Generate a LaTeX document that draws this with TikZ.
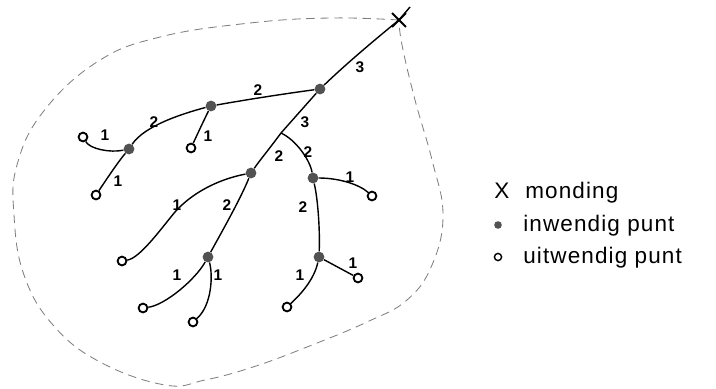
\documentclass[tikz,border=0pt]{standalone}
\usepackage{fontspec}
\setmainfont{Liberation Sans}
\usetikzlibrary{positioning, shapes.misc}

\begin{document}
\begin{tikzpicture}[x=0.025cm, y=-0.025cm,
    tak/.style={line width=1pt},
    inw/.style={circle, fill=black!68, inner sep=0pt, minimum size=0.27cm},
    uitw/.style={circle, draw, line width=1.3pt, fill=white, inner sep=0pt, minimum size=0.22cm},
    getal/.style={font=\bfseries\fontsize{11}{13}\selectfont, inner sep=0.5pt},
    rand/.style={gray, line width=0.6pt, dash pattern=on 6pt off 4pt},
    leg/.style={font=\fontsize{16}{19}\selectfont\addfontfeatures{LetterSpace=5}, anchor=base west, inner sep=0pt}]
        \useasboundingbox (0,0) rectangle (716,388);
        % Rand
        \draw[rand] plot[smooth, tension=0.7] coordinates {(399,20) (330,18) (250,23) (160,37) (97,62) (43,112) (17,165) (14,215) (24,275) (53,325) (100,362) (165,385) (205,380) (253,367) (307,347) (367,322) (407,300) (432,265) (443,215) (432,160) (415,100) (402,45) (399,20)};
        % Monding
        \node[cross out, draw, line width=1.4pt, minimum size=0.3cm, inner sep=0pt] (M) at (399,20) {};
        \coordinate (top) at (410,7);
        % Inwendige punten
        \node[inw] (A) at (320,89) {};
        \node[inw] (B) at (211,106) {};
        \node[inw] (C) at (129,149) {};
        \node[inw] (D) at (251,173) {};
        \node[inw] (E) at (313,178) {};
        \node[inw] (F) at (208,257) {};
        \node[inw] (G) at (319,257) {};
        \coordinate (V) at (281,133);
        % Uitwendige punten
        \node[uitw] (c1) at (83,137) {};
        \node[uitw] (c2) at (96,195) {};
        \node[uitw] (b1) at (191,148) {};
        \node[uitw] (d1) at (122,261) {};
        \node[uitw] (e1) at (372,196) {};
        \node[uitw] (f1) at (143,308) {};
        \node[uitw] (f2) at (193,322) {};
        \node[uitw] (g1) at (287,307) {};
        \node[uitw] (g2) at (358,278) {};
        % Takken
        \draw[tak] (top) -- (M.center) .. controls (372,42) and (345,65) .. (A);
        \draw[tak] (A) .. controls (290,93) and (250,99) .. (B);
        \draw[tak] (B) .. controls (185,113) and (145,125) .. (C);
        \draw[tak] (C) .. controls (110,153) and (90,149) .. (c1);
        \draw[tak] (C) .. controls (118,162) and (106,180) .. (c2);
        \draw[tak] (B) .. controls (204,120) and (197,135) .. (b1);
        \draw[tak] (A) -- (V) .. controls (270,148) and (260,160) .. (D);
        \draw[tak] (V) .. controls (296,140) and (310,160) .. (E);
        \draw[tak] (E) .. controls (340,178) and (360,185) .. (e1);
        \draw[tak] (E) .. controls (318,200) and (320,230) .. (G);
        \draw[tak] (G) .. controls (314,280) and (300,295) .. (g1);
        \draw[tak] (G) -- (g2);
        \draw[tak] (D) .. controls (215,180) and (190,195) .. (175,212) .. controls (160,230) and (140,258) .. (d1);
        \draw[tak] (D) .. controls (240,200) and (220,235) .. (F);
        \draw[tak] (F) .. controls (195,280) and (165,305) .. (f1);
        \draw[tak] (F) .. controls (213,275) and (212,305) .. (f2);
        % Getallen
        \node[getal] (nMA) at (360,67) {3};
        \node[getal] (nAB) at (258,90) {2};
        \node[getal] (nBC) at (154,122) {2};
        \node[getal] (nC1) at (105,135) {1};
        \node[getal] (nC2) at (118,181) {1};
        \node[getal] (nB1) at (208,136) {1};
        \node[getal] (nAV) at (305,122) {3};
        \node[getal] (nVD) at (279,156) {2};
        \node[getal] (nVE) at (308,152) {2};
        \node[getal] (nE1) at (350,177) {1};
        \node[getal] (nEG) at (303,207) {2};
        \node[getal] (nG1) at (300,275) {1};
        \node[getal] (nG2) at (353,263) {1};
        \node[getal] (nD1) at (177,205) {1};
        \node[getal] (nDF) at (227,205) {2};
        \node[getal] (nF1) at (177,275) {1};
        \node[getal] (nF2) at (218,275) {1};
        % Legenda
        \node[leg] (lX) at (494,198) {X};
        \node[leg] (lmond) at (525,198) {monding};
        \node[inw, minimum size=0.19cm] (lin) at (498,225) {};
        \node[leg] (linw) at (523,231) {inwendig punt};
        \node[uitw, minimum size=0.18cm, line width=1pt] (luit) at (498,257) {};
        \node[leg] (luitw) at (523,263) {uitwendig punt};
\end{tikzpicture}
\end{document}
